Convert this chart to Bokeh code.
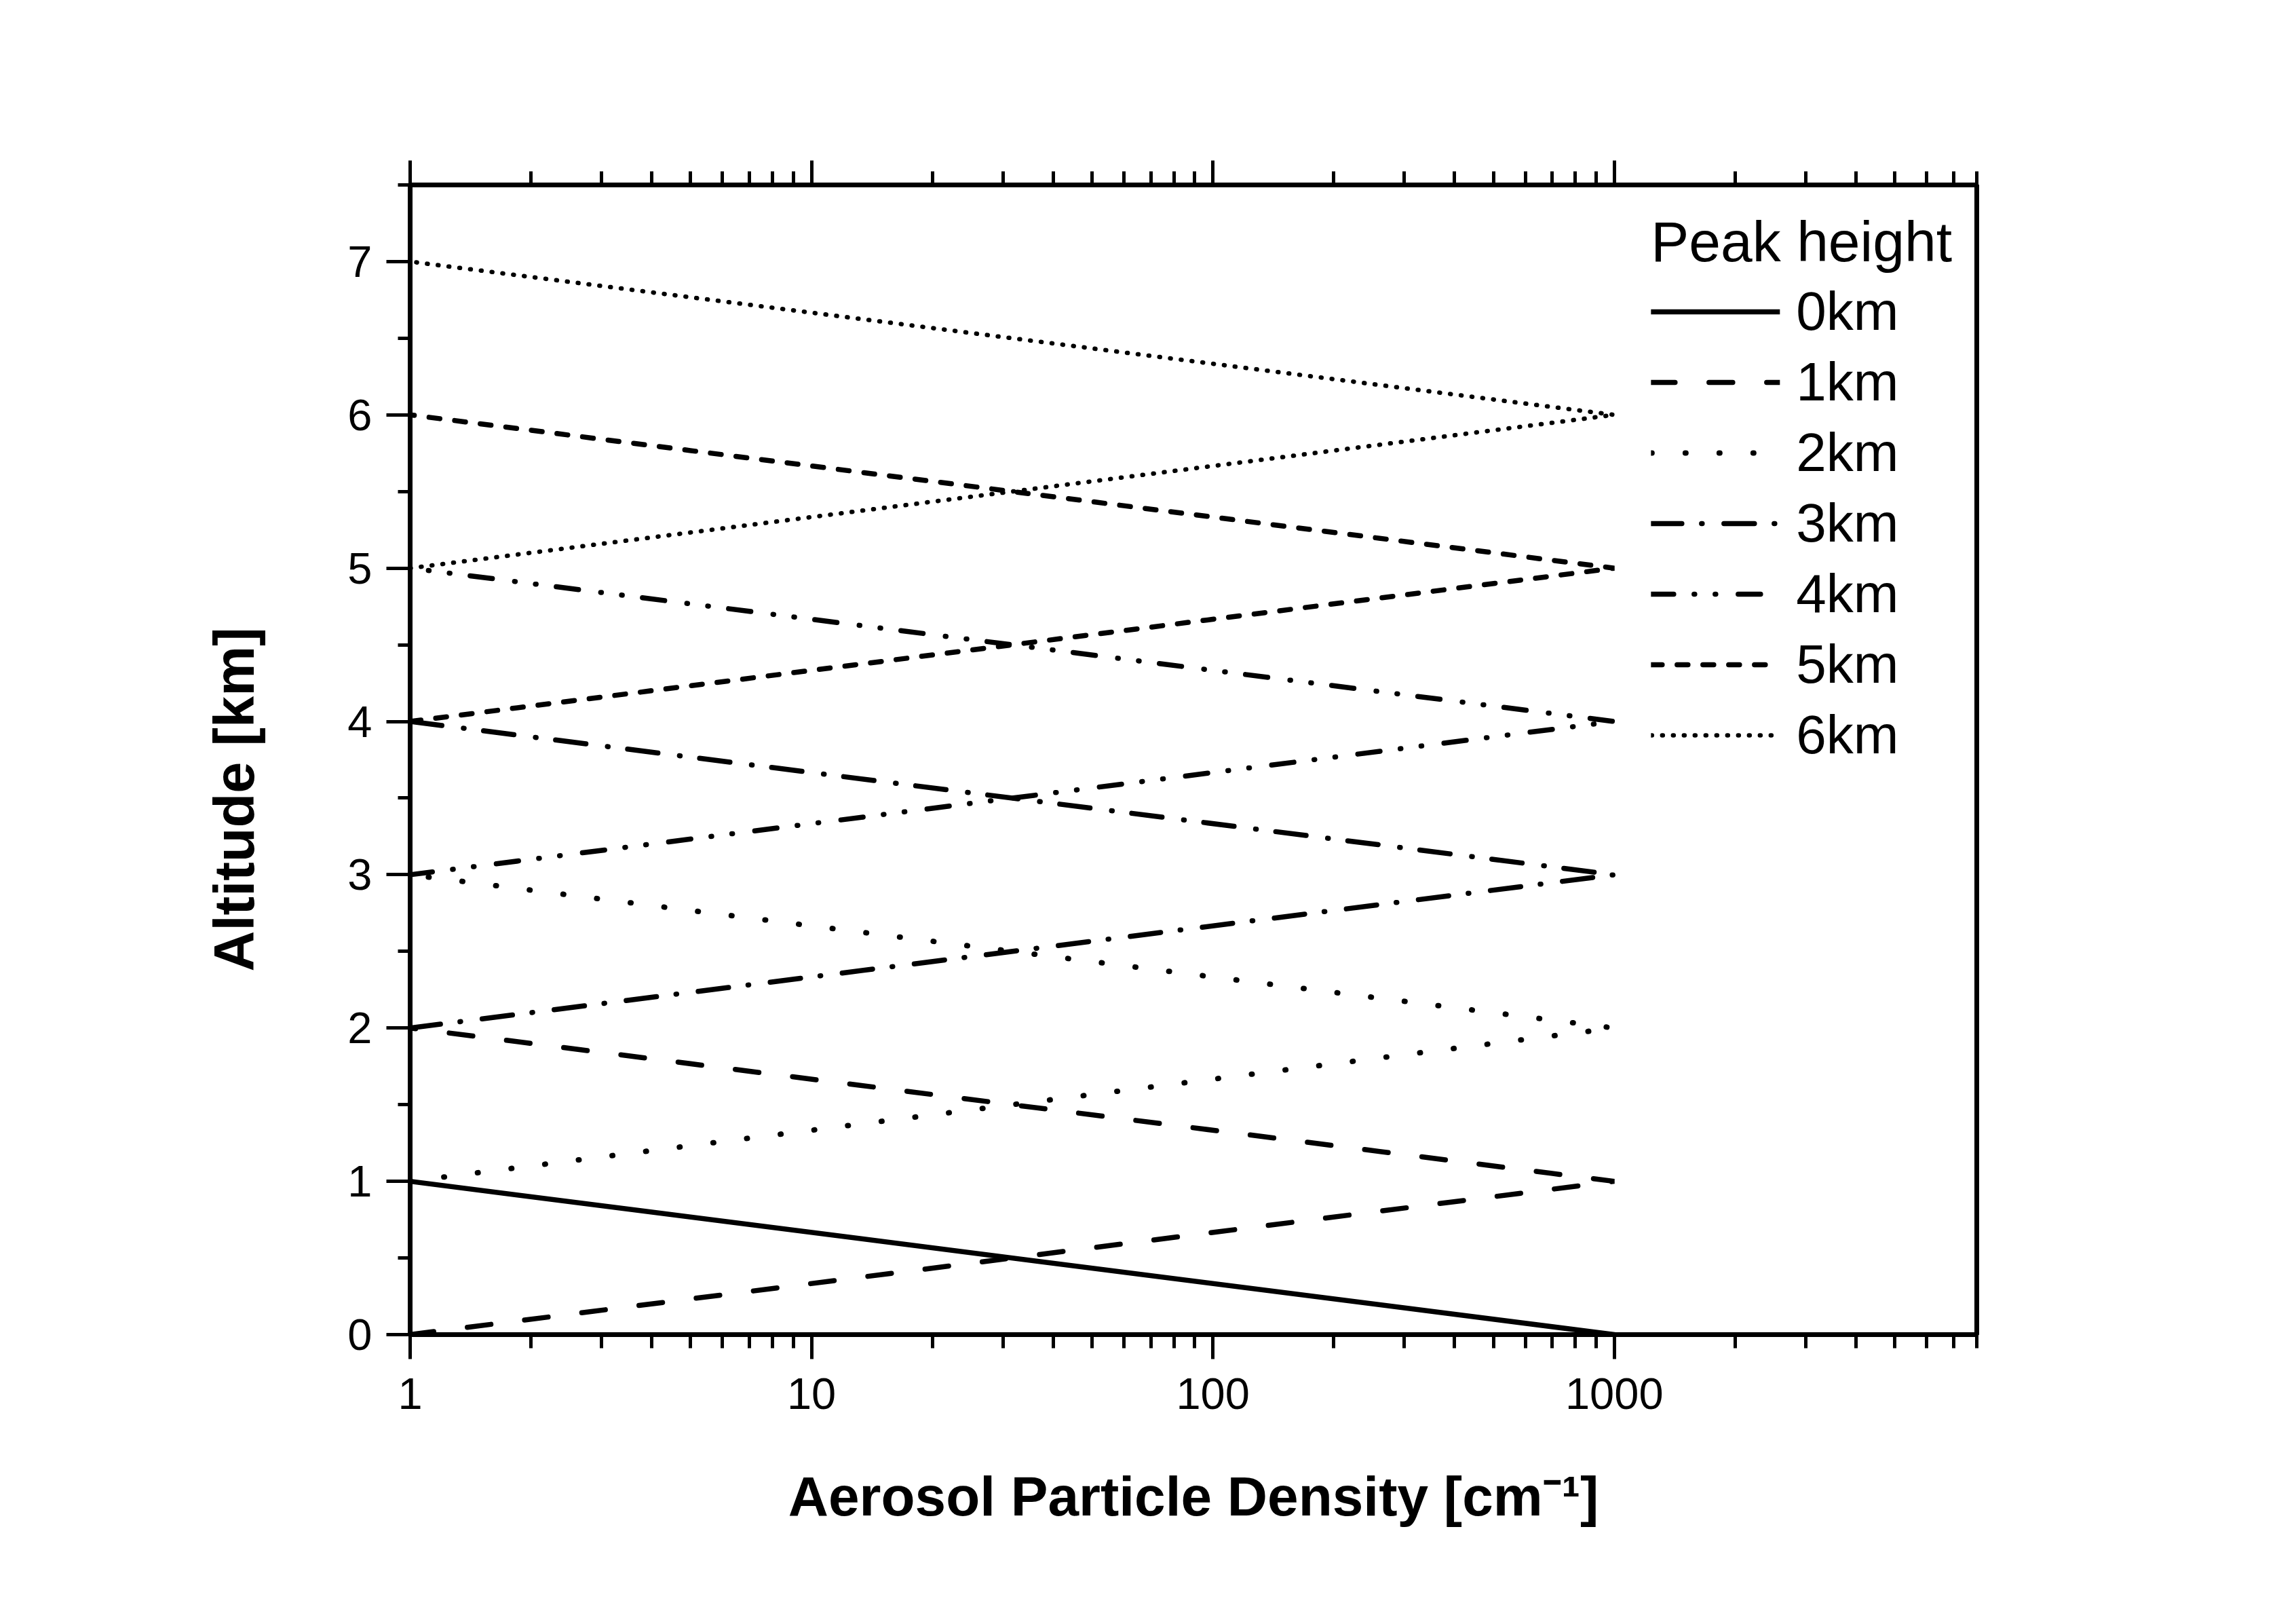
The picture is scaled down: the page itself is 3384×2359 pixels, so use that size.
from bokeh.plotting import figure
from bokeh.models import LogAxis, FixedTicker, Legend, LegendItem, Range1d, PrintfTickFormatter, Title
from bokeh.embed import file_html
from bokeh.resources import INLINE

# ---------------- data ----------------
peak_labels = ["0km", "1km", "2km", "3km", "4km", "5km", "6km"]

density_0km = [1, 1000]
altitude_0km = [1, 0]

density_1km = [1, 1000, 1]
altitude_1km = [0, 1, 2]

density_2km = [1, 1000, 1]
altitude_2km = [1, 2, 3]

density_3km = [1, 1000, 1]
altitude_3km = [2, 3, 4]

density_4km = [1, 1000, 1]
altitude_4km = [3, 4, 5]

density_5km = [1, 1000, 1]
altitude_5km = [4, 5, 6]

density_6km = [1, 1000, 1]
altitude_6km = [5, 6, 7]

x_major_ticks = [1, 10, 100, 1000]
x_minor_ticks = [m * d for d in [1, 10, 100, 1000] for m in range(2, 10) if m * d <= 8000]
y_major_ticks = [0, 1, 2, 3, 4, 5, 6, 7]
y_minor_ticks = [0.5, 1.5, 2.5, 3.5, 4.5, 5.5, 6.5, 7.5]

x_title = "Aerosol Particle Density [cm\u207b\u00b9]"
y_title = "Altitude [km]"
legend_title = "Peak height"

series = [
    (density_0km, altitude_0km, "solid"),
    (density_1km, altitude_1km, "35 50"),
    (density_2km, altitude_2km, "1 49"),
    (density_3km, altitude_3km, "45 29 1 32"),
    (density_4km, altitude_4km, "33 30 1 30 1 33"),
    (density_5km, altitude_5km, "16 22"),
    (density_6km, altitude_6km, "1 15"),
]
line_widths = [7.5, 7.5, 8, 7.5, 7.5, 7.5, 6.5]

FONT = "Liberation Sans"

p = figure(
    width=3368, height=2343,
    x_axis_type="log",
    x_range=Range1d(1, 8000), y_range=Range1d(0, 7.5),
    output_backend="svg", toolbar_location=None,
    min_border_left=604, min_border_right=455,
    min_border_top=272, min_border_bottom=377,
    background_fill_color="white", border_fill_color="white",
)
p.grid.visible = False
p.outline_line_color = "black"
p.outline_line_width = 7

# bottom axis
xa = p.xaxis[0]
xa.ticker = FixedTicker(ticks=x_major_ticks, minor_ticks=x_minor_ticks)
xa.formatter = PrintfTickFormatter(format="%d")
xa.axis_line_width = 7
xa.major_tick_line_width = 5
xa.minor_tick_line_width = 5
xa.major_tick_out = 36
xa.major_tick_in = 0
xa.minor_tick_out = 20
xa.minor_tick_in = 0
xa.major_label_text_font = FONT
xa.major_label_text_font_size = "65px"
xa.major_label_text_color = "black"
xa.major_label_standoff = 28
xa.axis_label = x_title
xa.axis_label_text_font = FONT
xa.axis_label_text_font_size = "82px"
xa.axis_label_text_font_style = "bold"
xa.axis_label_text_color = "black"
xa.axis_label_standoff = 80

# left axis (title added separately so it can sit slightly below centre)
ya = p.yaxis[0]
ya.ticker = FixedTicker(ticks=y_major_ticks, minor_ticks=y_minor_ticks)
ya.axis_line_width = 7
ya.major_tick_line_width = 5
ya.minor_tick_line_width = 5
ya.major_tick_out = 35
ya.major_tick_in = 0
ya.minor_tick_out = 18
ya.minor_tick_in = 0
ya.major_label_text_font = FONT
ya.major_label_text_font_size = "65px"
ya.major_label_text_color = "black"
ya.major_label_standoff = 21

ytitle = Title(
    text=y_title, align="left", offset=535, standoff=236,
    text_font=FONT, text_font_size="83px", text_font_style="bold", text_color="black",
)
p.add_layout(ytitle, "left")

# top axis: ticks only (labels invisible)
top = LogAxis(
    ticker=FixedTicker(ticks=x_major_ticks, minor_ticks=x_minor_ticks),
    formatter=PrintfTickFormatter(format="%d"),
    axis_line_width=7,
    major_tick_line_width=5, minor_tick_line_width=5,
    major_tick_out=36, major_tick_in=0, minor_tick_out=20, minor_tick_in=0,
    major_label_text_font_size="10px", major_label_text_alpha=0,
)
p.add_layout(top, "above")

items = []
for (xs, ys, dash), lab, lw in zip(series, peak_labels, line_widths):
    r = p.line(xs, ys, line_color="black", line_width=lw, line_dash=dash, line_cap="round")
    items.append(LegendItem(label=lab, renderers=[r]))

legend = Legend(
    items=items, title=legend_title, location="top_right",
    margin=36, padding=0, spacing=12,
    border_line_color=None, background_fill_alpha=0,
    glyph_width=190, glyph_height=80, label_height=80, label_standoff=24,
    label_text_font=FONT, label_text_font_size="80px", label_text_color="black",
    title_text_font=FONT, title_text_font_size="84px", title_text_font_style="normal",
    title_text_color="black",
    title_standoff=8,
)
p.add_layout(legend)

open("out.html", "w").write(file_html(p, INLINE))
